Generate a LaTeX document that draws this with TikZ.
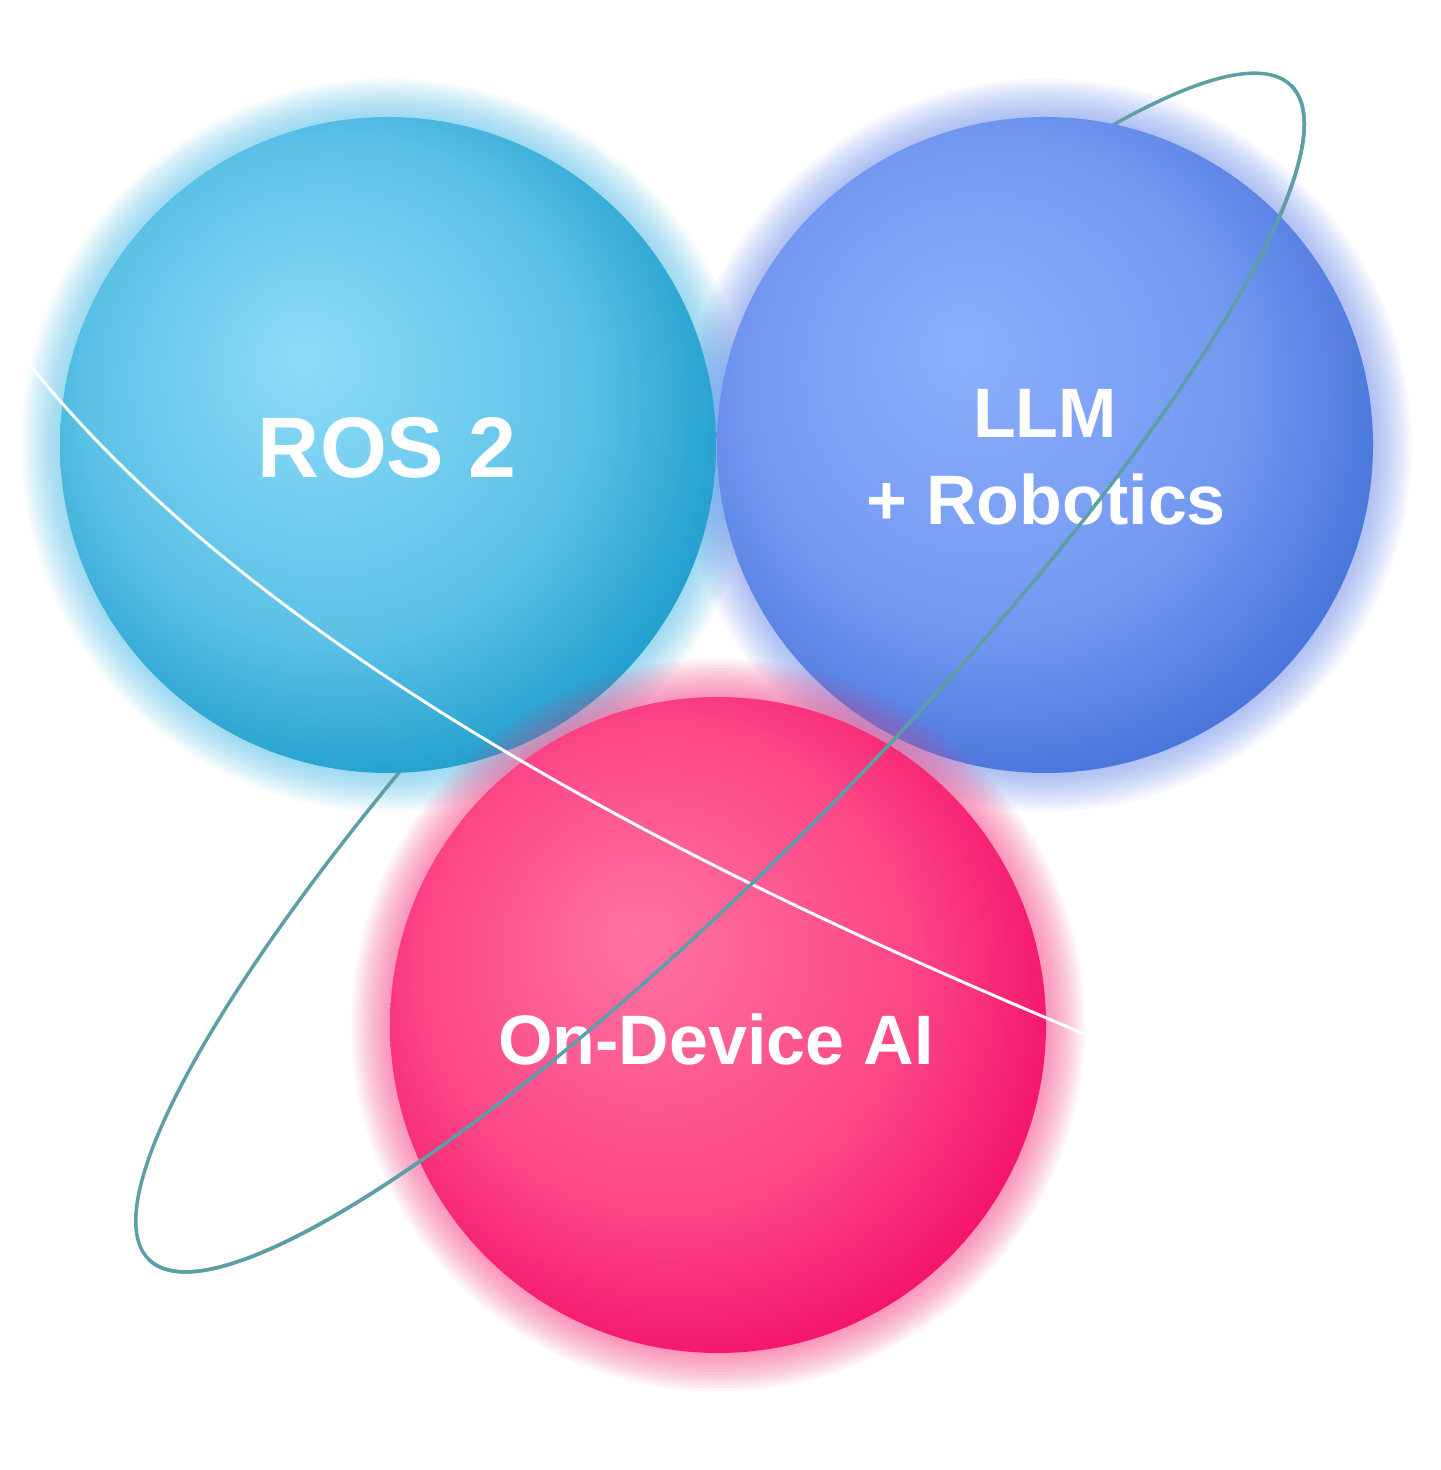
\documentclass[tikz,border=0pt]{standalone}
\usepackage{fontspec}
\setmainfont{Liberation Sans}
\usepackage{tikz}

\definecolor{rosHi}{HTML}{8EDCF8}
\definecolor{rosMid}{HTML}{5CC1E7}
\definecolor{rosLo}{HTML}{22A0CE}
\definecolor{rosGlow}{HTML}{48BDE9}
\definecolor{llmHi}{HTML}{8BB0FC}
\definecolor{llmMid}{HTML}{7398F1}
\definecolor{llmLo}{HTML}{4A76DB}
\definecolor{llmGlow}{HTML}{6A8CEE}
\definecolor{aiHi}{HTML}{FF74A2}
\definecolor{aiMid}{HTML}{FC4585}
\definecolor{aiLo}{HTML}{F3146A}
\definecolor{aiGlow}{HTML}{FA3A7E}
\definecolor{orbit}{HTML}{5C9FA7}

\pgfdeclareradialshading{rosball}{\pgfpoint{-6.7bp}{6.9bp}}{color(0bp)=(rosHi); color(19bp)=(rosMid); color(29bp)=(rosLo); color(50bp)=(rosLo)}
\pgfdeclareradialshading{llmball}{\pgfpoint{-6.5bp}{7.6bp}}{color(0bp)=(llmHi); color(19bp)=(llmMid); color(29bp)=(llmLo); color(50bp)=(llmLo)}
\pgfdeclareradialshading{aiball}{\pgfpoint{-6.3bp}{6.9bp}}{color(0bp)=(aiHi); color(19bp)=(aiMid); color(29bp)=(aiLo); color(50bp)=(aiLo)}

\begin{document}
\begin{tikzpicture}[x=0.5pt, y=0.5pt,
glow/.style={fill=#1, opacity=0.055},
orbit line/.style={draw=orbit, line width=1.75pt},
wake line/.style={draw=white, line width=1.5pt, line cap=round},
ball label/.style={text=white, inner sep=0pt, anchor=base,
    font=\bfseries\fontsize{35}{42}\selectfont}]
\useasboundingbox[fill=white] (0,0) rectangle (1440,1470);
\coordinate (ros) at (388,1025);
\coordinate (llm) at (1045,1025);
\coordinate (ai) at (718,445);
\coordinate (orbitc) at (720,797.5);
\coordinate (trailA) at (30,1105);
\coordinate (trailB) at (1082,437);
% halos
\foreach \c/\col in {ros/rosGlow, llm/llmGlow, ai/aiGlow}
  \foreach \i in {1,...,12}
    \fill[glow=\col] (\c) circle[radius=328+3.2*\i];
% orbit, far side
\draw[orbit line, rotate around={45.8:(orbitc)}] (orbitc) ellipse[x radius=819, y radius=172];
% spheres
\shade[shading=rosball] (ros) circle[radius=328];
\shade[shading=llmball] (llm) circle[radius=328];
\shade[shading=aiball] (ai) circle[radius=328];
\begin{scope}
\clip (ros) circle[radius=328] (llm) circle[radius=328];
\foreach \i in {1,...,12}
  \fill[glow=aiGlow, opacity=0.04] (ai) circle[radius=328+3.2*\i];
\end{scope}
% labels
\node[ball label, font=\bfseries\fontsize{43}{50}\selectfont] (roslabel) at (387,992) {ROS 2};
\node[ball label] (llmlabel) at (1045,1032) {LLM};
\node[ball label] (roblabel) at (1046,945) {+ Robotics};
\node[ball label] (ailabel) at (716,405) {On-Device AI};
% white trail
\draw[wake line] (trailA) .. controls (293,776) and (819,547.5) .. (trailB);
% orbit, near side
\draw[orbit line, rotate around={45.8:(orbitc)}] (orbitc) ++(180:819 and 172)
  arc[start angle=180, end angle=360, x radius=819, y radius=172];
\end{tikzpicture}
\end{document}
